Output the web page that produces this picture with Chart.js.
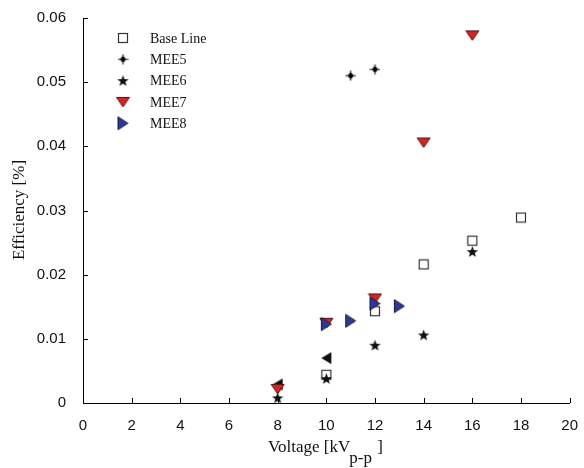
<!DOCTYPE html>
<html><head><meta charset="utf-8">
<script src="https://cdn.jsdelivr.net/npm/chart.js@4/dist/chart.umd.min.js"></script>
<style>html,body{margin:0;padding:0;background:#fff}#wrap{width:584px;height:468px}</style>
</head><body><div id="wrap"><canvas id="c" width="584" height="468"></canvas></div>
<script>
// ---- data ----
const baseLineX = [10, 12, 14, 16, 18];
const baseLineY = [0.0044, 0.0143, 0.0216, 0.0253, 0.0289];
const mee5X = [11, 12];
const mee5Y = [0.0510, 0.0520];
const mee6X = [8, 10, 12, 14, 16];
const mee6Y = [0.0008, 0.0038, 0.0090, 0.0106, 0.0236];
const mee7X = [8, 10, 12, 14, 16];
const mee7Y = [0.0022, 0.0125, 0.0163, 0.0406, 0.0573];
const mee8X = [10, 11, 12, 13];
const mee8Y = [0.0123, 0.0128, 0.0155, 0.0151];
const extraX = [8, 10];
const extraY = [0.0029, 0.0070];
const xTicks = [0, 2, 4, 6, 8, 10, 12, 14, 16, 18, 20];
const yTicks = [0, 0.01, 0.02, 0.03, 0.04, 0.05, 0.06];
const seriesLabels = ['Base Line', 'MEE5', 'MEE6', 'MEE7', 'MEE8'];

function pts(xs, ys) { return xs.map((x, i) => ({x: x, y: ys[i]})); }
function mk(w, h, draw) {
  const c = document.createElement('canvas'); c.width = w; c.height = h;
  draw(c.getContext('2d')); return c;
}
const sqImg = mk(12, 12, g => { g.strokeStyle = '#333'; g.lineWidth = 1.2; g.strokeRect(1.5, 1.5, 9, 9); });
const sparkImg = mk(11, 11, g => {
  g.strokeStyle = '#444'; g.lineWidth = 1.5;
  g.beginPath(); g.moveTo(5.5, 0.5); g.lineTo(5.5, 10.5); g.moveTo(0.5, 5.5); g.lineTo(10.5, 5.5); g.stroke();
  g.fillStyle = '#000'; g.beginPath();
  g.moveTo(5.5, 2); g.lineTo(8, 5.5); g.lineTo(5.5, 9); g.lineTo(3, 5.5); g.closePath(); g.fill();
  g.fillRect(3.5, 3.5, 4, 4);
});
const starImg = mk(13, 13, g => {
  g.fillStyle = '#111'; g.beginPath();
  for (let i = 0; i < 10; i++) {
    const r = i % 2 === 0 ? 6 : 2.5; const a = -Math.PI / 2 + i * Math.PI / 5;
    const px = 6.5 + r * Math.cos(a), py = 7 + r * Math.sin(a);
    i === 0 ? g.moveTo(px, py) : g.lineTo(px, py);
  }
  g.closePath(); g.fill();
});
const downImg = mk(15, 12, g => {
  g.fillStyle = '#d02525'; g.strokeStyle = '#5a1515'; g.lineWidth = 1;
  g.beginPath(); g.moveTo(1, 1.5); g.lineTo(14, 1.5); g.lineTo(7.5, 11); g.closePath(); g.fill(); g.stroke();
});
const rightImg = mk(13, 15, g => {
  g.fillStyle = '#2d3894'; g.strokeStyle = '#1a1d45'; g.lineWidth = 1;
  g.beginPath(); g.moveTo(1.5, 1); g.lineTo(11.5, 7.5); g.lineTo(1.5, 14); g.closePath(); g.fill(); g.stroke();
});
const leftImg = mk(12, 14, g => {
  g.fillStyle = '#111';
  g.beginPath(); g.moveTo(11, 1); g.lineTo(1, 7); g.lineTo(11, 13); g.closePath(); g.fill();
});

function ds(label, xs, ys, img, order) {
  return {label: label, data: pts(xs, ys), pointStyle: img, pointRadius: 6, showLine: false,
          clip: false, order: order, backgroundColor: '#000', borderColor: '#000'};
}

const legendPlugin = {
  id: 'customDecor',
  afterDraw(chart) {
    const g = chart.ctx, xs = chart.scales.x, ys = chart.scales.y;
    g.save();
    // inward ticks
    g.strokeStyle = '#000'; g.lineWidth = 1;
    const bottom = ys.getPixelForValue(0), left = xs.getPixelForValue(0);
    xTicks.forEach(v => { const px = Math.round(xs.getPixelForValue(v)) + 0.5;
      g.beginPath(); g.moveTo(px, bottom); g.lineTo(px, bottom - 5); g.stroke(); });
    yTicks.forEach(v => { const py = Math.round(ys.getPixelForValue(v)) + 0.5;
      g.beginPath(); g.moveTo(left, py); g.lineTo(left + 5, py); g.stroke(); });
    // legend
    g.font = '14px "Liberation Serif"'; g.fillStyle = '#111'; g.textBaseline = 'middle'; g.textAlign = 'left';
    let row = 0;
    chart.data.datasets.forEach(d => {
      if (!d.label) return;
      const y = 38 + row * 21.3;
      const img = d.pointStyle;
      g.drawImage(img, 123 - img.width / 2, y - img.height / 2);
      g.fillText(d.label, 150, y + 1);
      row++;
    });
    // y title
    g.save(); g.translate(20, 210); g.rotate(-Math.PI / 2);
    g.font = '17px "Liberation Serif"'; g.textAlign = 'center'; g.textBaseline = 'middle';
    g.fillText('Efficiency [%]', 0, 0); g.restore();
    // x title with subscript
    g.font = '17px "Liberation Serif"'; g.textBaseline = 'alphabetic'; g.textAlign = 'left';
    const main = 'Voltage [kV', sub = 'p-p', tail = ' ]';
    const w1 = g.measureText(main).width, w2 = g.measureText(sub).width;
    const x0 = 268;
    g.fillText(main, x0, 452);
    g.fillText(sub, x0 + w1 - 1, 463);
    g.fillText(tail, x0 + w1 + w2, 452);
    g.restore();
  }
};

new Chart(document.getElementById('c'), {
  type: 'scatter',
  data: {datasets: [
    ds(seriesLabels[0], baseLineX, baseLineY, sqImg, 3),
    ds(seriesLabels[1], mee5X, mee5Y, sparkImg, 5),
    ds(seriesLabels[2], mee6X, mee6Y, starImg, 2),
    ds(seriesLabels[3], mee7X, mee7Y, downImg, 4),
    ds(seriesLabels[4], mee8X, mee8Y, rightImg, 1),
    ds('', extraX, extraY, leftImg, 6)
  ]},
  options: {
    responsive: false, animation: false, events: [],
    layout: {padding: {top: 18, right: 12, left: 0, bottom: 0}},
    plugins: {legend: {display: false}, tooltip: {enabled: false}},
    scales: {
      x: {type: 'linear', min: 0, max: 20,
        afterBuildTicks(s) { s.ticks = xTicks.map(v => ({value: v})); },
        afterFit(s) { s.height = 65; },
        grid: {display: false}, border: {display: true, color: '#000', width: 1},
        ticks: {padding: 6, color: '#111', font: {family: '"Liberation Sans"', size: 15}, maxRotation: 0,
          callback: v => String(v)}},
      y: {type: 'linear', min: 0, max: 0.06,
        afterBuildTicks(s) { s.ticks = yTicks.map(v => ({value: v})); },
        afterFit(s) { s.width = 83; },
        grid: {display: false}, border: {display: true, color: '#000', width: 1},
        ticks: {padding: 9, color: '#111', font: {family: '"Liberation Sans"', size: 15},
          callback: v => v === 0 ? '0' : v.toFixed(2)}}
    }
  },
  plugins: [legendPlugin]
});
</script></body></html>
